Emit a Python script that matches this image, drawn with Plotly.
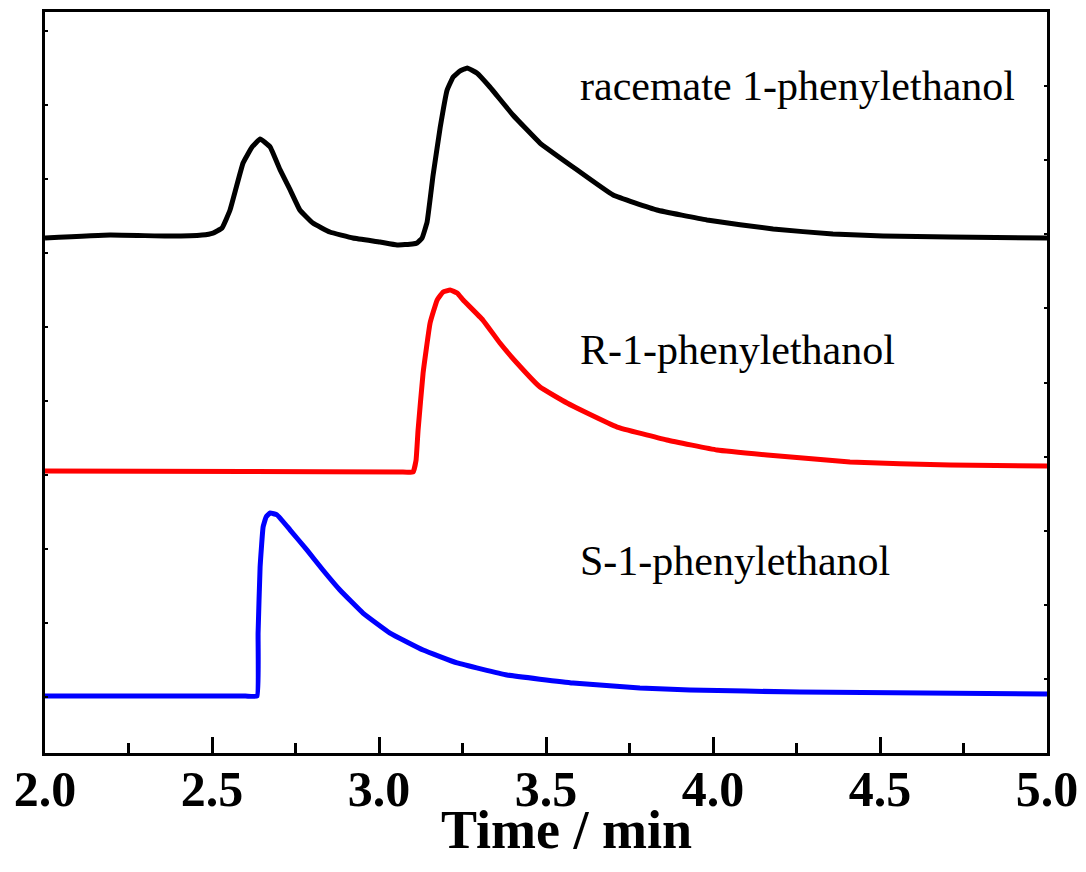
import plotly.graph_objects as go

# Retention time (min) and offset detector signal (a.u.)
race_t = [2.000, 2.195, 2.374, 2.470, 2.503, 2.530, 2.554, 2.593, 2.620, 2.644, 2.674, 2.704,
          2.734, 2.763, 2.802, 2.853, 2.922, 3.003, 3.054, 3.100, 3.114, 3.129, 3.144, 3.162,
          3.183, 3.204, 3.222, 3.243, 3.264, 3.293, 3.332, 3.401, 3.482, 3.581, 3.701,
          3.832, 3.982, 4.180, 4.359, 4.509, 4.710, 5.000]
race_y = [6.950, 6.990, 6.976, 6.990, 7.017, 7.085, 7.328, 7.962, 8.178, 8.286, 8.178, 7.868,
          7.598, 7.328, 7.152, 7.031, 6.950, 6.896, 6.856, 6.870, 6.883, 6.950, 7.166, 7.800,
          8.435, 8.947, 9.123, 9.204, 9.244, 9.177, 8.988, 8.610, 8.232, 7.908, 7.530,
          7.328, 7.193, 7.071, 7.004, 6.977, 6.963, 6.950]

r_t = [2.000, 2.600, 3.063, 3.102, 3.111, 3.117, 3.132, 3.153, 3.174, 3.192, 3.213, 3.234,
       3.252, 3.311, 3.362, 3.413, 3.482, 3.563, 3.623, 3.713, 3.862, 4.012, 4.162,
       4.410, 4.710, 5.000]
r_y = [3.806, 3.800, 3.792, 3.792, 3.954, 4.359, 5.128, 5.803, 6.113, 6.221, 6.248, 6.208,
       6.113, 5.843, 5.533, 5.263, 4.939, 4.723, 4.588, 4.399, 4.224, 4.089, 4.022,
       3.927, 3.887, 3.873]

s_t = [2.000, 2.300, 2.600, 2.635, 2.638, 2.644, 2.653, 2.662, 2.674, 2.695, 2.734, 2.784, 2.832,
       2.883, 2.952, 3.033, 3.132, 3.234, 3.383, 3.581, 3.781, 3.931, 4.260, 5.000]
s_y = [0.769, 0.769, 0.769, 0.769, 1.619, 2.510, 3.050, 3.185, 3.239, 3.212, 3.009, 2.740, 2.470,
       2.200, 1.889, 1.619, 1.390, 1.215, 1.053, 0.945, 0.877, 0.850, 0.823, 0.796]

labels = ["racemate 1-phenylethanol", "R-1-phenylethanol", "S-1-phenylethanol"]
label_y = [9.0, 5.44, 2.59]
label_x = 3.596
x_title = "Time / min"

x_ticks = [2.0, 2.5, 3.0, 3.5, 4.0, 4.5, 5.0]
x_ticktext = ["2.0", "2.5", "3.0", "3.5", "4.0", "4.5", "5.0"]
x_minor = [2.25, 2.75, 3.25, 3.75, 4.25, 4.75]
left_ticks = [0.75 + k for k in range(10)]
right_ticks = [k for k in range(1, 10)]

serif = "Liberation Serif, Times New Roman, serif"

fig = go.Figure()
line_style = dict(width=5, shape="spline", smoothing=0.3)
fig.add_trace(go.Scatter(x=race_t, y=race_y, mode="lines", line=dict(color="black", **line_style), showlegend=False))
fig.add_trace(go.Scatter(x=r_t, y=r_y, mode="lines", line=dict(color="#ff0000", **line_style), showlegend=False))
fig.add_trace(go.Scatter(x=s_t, y=s_y, mode="lines", line=dict(color="#0000ff", **line_style), showlegend=False))
fig.add_trace(go.Scatter(x=[2.0], y=[0.769], mode="lines", yaxis="y2", showlegend=False, hoverinfo="skip",
                         line=dict(color="rgba(0,0,0,0)")))

for txt, yy in zip(labels, label_y):
    fig.add_annotation(x=label_x, y=yy, text=txt, showarrow=False, xanchor="left", yanchor="middle",
                       font=dict(family=serif, size=42, color="black"))

fig.add_annotation(x=0.52, y=-0.104, xref="paper", yref="paper", text=x_title, showarrow=False,
                   xanchor="center", yanchor="middle",
                   font=dict(family=serif, size=54, color="black", weight="bold"))

fig.update_layout(
    width=1086, height=872,
    margin=dict(l=45, r=39, t=12, b=119, autoexpand=False),
    paper_bgcolor="white", plot_bgcolor="white",
    xaxis=dict(range=[2, 5], tickvals=x_ticks, ticktext=x_ticktext, ticks="inside", ticklen=16, tickwidth=2.5,
               tickcolor="black", showline=True, linecolor="black", linewidth=3, mirror=True, showgrid=False,
               zeroline=False, automargin=False, ticklabelstandoff=-10,
               tickfont=dict(family=serif, size=50, color="black", weight="bold"),
               minor=dict(tickvals=x_minor, ticks="inside", ticklen=10, tickwidth=2.5, tickcolor="black",
                          showgrid=False)),
    yaxis=dict(range=[0, 10], tickvals=left_ticks, ticks="inside", ticklen=3, tickwidth=2, tickcolor="black",
               showticklabels=False, showline=True, linecolor="black", linewidth=3, showgrid=False,
               zeroline=False, automargin=False),
    yaxis2=dict(range=[0, 10], overlaying="y", side="right", tickvals=right_ticks, ticks="inside", ticklen=3,
                tickwidth=2, tickcolor="black", showticklabels=False, showline=True, linecolor="black",
                linewidth=3, showgrid=False, zeroline=False, automargin=False),
)

fig.write_html("out.html")
